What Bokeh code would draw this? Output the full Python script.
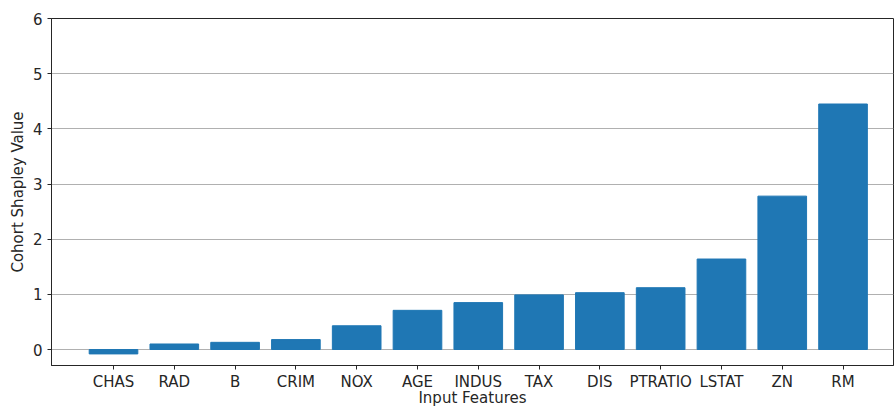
from bokeh.plotting import figure
from bokeh.models import Range1d, FixedTicker
from bokeh.embed import file_html
from bokeh.resources import INLINE

features = ["CHAS", "RAD", "B", "CRIM", "NOX", "AGE", "INDUS", "TAX", "DIS", "PTRATIO", "LSTAT", "ZN", "RM"]
values = [-0.08, 0.10, 0.13, 0.18, 0.43, 0.71, 0.85, 0.99, 1.03, 1.12, 1.64, 2.78, 4.45]
y_ticks = [0, 1, 2, 3, 4, 5, 6]

xs = list(range(len(features)))

p = figure(width=894, height=409, output_backend="svg", toolbar_location=None,
           x_range=Range1d(-1.02, 12.83), y_range=Range1d(-0.29, 6.0),
           min_border_left=51, min_border_top=18, min_border_right=1, min_border_bottom=44)

p.vbar(x=xs, top=values, bottom=0, width=0.8, color="#1f77b4", line_color="#1f77b4")

FONT = "DejaVu Sans"
p.xaxis.ticker = FixedTicker(ticks=xs)
p.xaxis.major_label_overrides = {i: f for i, f in enumerate(features)}
p.yaxis.ticker = FixedTicker(ticks=y_ticks)
p.xaxis.axis_label = "Input Features"
p.yaxis.axis_label = "Cohort Shapley Value"

for ax in (p.xaxis[0], p.yaxis[0]):
    ax.major_label_text_font = FONT
    ax.major_label_text_font_size = "15px"
    ax.major_label_text_color = "#262626"
    ax.axis_label_text_font = FONT
    ax.axis_label_text_font_size = "15px"
    ax.axis_label_text_font_style = "normal"
    ax.axis_label_text_color = "#262626"
    ax.minor_tick_line_color = None
    ax.major_tick_out = 4
    ax.major_tick_in = 0
    ax.axis_line_color = "#262626"
    ax.major_tick_line_color = "#262626"

p.xaxis.axis_label_standoff = -5
p.xaxis.major_label_standoff = 3
p.yaxis.axis_label_standoff = 3
p.yaxis.major_label_standoff = 5

p.xgrid.grid_line_color = None
p.ygrid.grid_line_color = "#b0b0b0"
p.ygrid.grid_line_width = 1
p.outline_line_color = "#262626"
p.outline_line_alpha = 1.0
p.background_fill_color = "white"
p.border_fill_color = "white"

open("out.html", "w").write(file_html(p, INLINE))
